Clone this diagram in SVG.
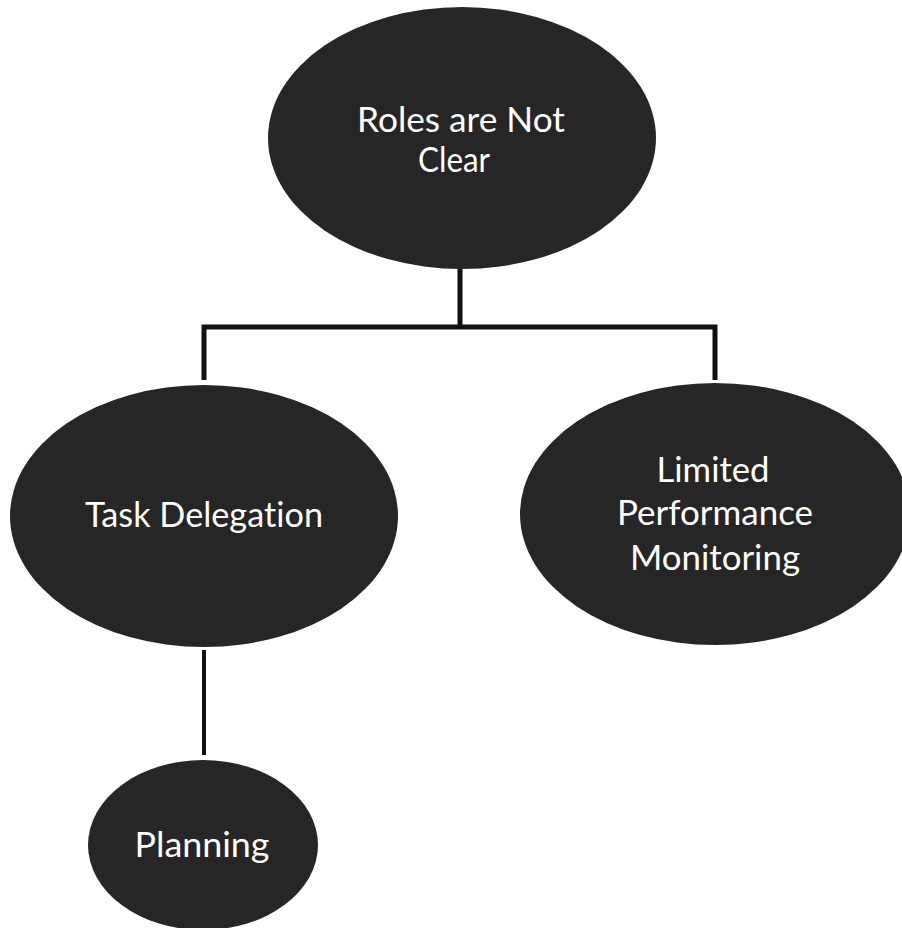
<svg xmlns="http://www.w3.org/2000/svg" width="902" height="928" viewBox="0 0 902 928">
<style>
.node{fill:#262626;}
.lbl{font-family:Lato,"Open Sans","Liberation Sans",sans-serif;font-size:34px;fill:#ffffff;text-anchor:middle;font-variant-ligatures:none;font-feature-settings:"liga" 0;}
.conn{stroke:#111111;stroke-width:5;fill:none;stroke-linecap:butt;}
</style>
<rect width="902" height="928" fill="#ffffff"/>
<g id="connectors">
<line class="conn" x1="460" y1="268" x2="460" y2="327"/>
<polyline class="conn" points="204,380 204,327 715,327 715,380"/>
<line class="conn" x1="204" y1="650" x2="204" y2="755" style="stroke-width:4"/>
</g>
<g id="node-roles">
<ellipse class="node" cx="462" cy="138" rx="194" ry="131"/>
<text class="lbl" x="461" y="132" textLength="208" lengthAdjust="spacingAndGlyphs">Roles are Not</text>
<text class="lbl" x="454" y="172" textLength="72" lengthAdjust="spacingAndGlyphs">Clear</text>
</g>
<g id="node-task">
<ellipse class="node" cx="204" cy="516" rx="194" ry="131"/>
<text class="lbl" x="204" y="527" textLength="238" lengthAdjust="spacingAndGlyphs">Task Delegation</text>
</g>
<g id="node-limited">
<ellipse class="node" cx="715" cy="514" rx="195" ry="131"/>
<text class="lbl" x="713" y="482" textLength="113" lengthAdjust="spacingAndGlyphs">Limited</text>
<text class="lbl" x="715" y="525" textLength="196" lengthAdjust="spacingAndGlyphs">Performance</text>
<text class="lbl" x="715" y="570" textLength="170" lengthAdjust="spacingAndGlyphs">Monitoring</text>
</g>
<g id="node-planning">
<ellipse class="node" cx="203" cy="845" rx="115" ry="85"/>
<text class="lbl" x="202" y="857" textLength="135" lengthAdjust="spacingAndGlyphs">Planning</text>
</g>
</svg>
